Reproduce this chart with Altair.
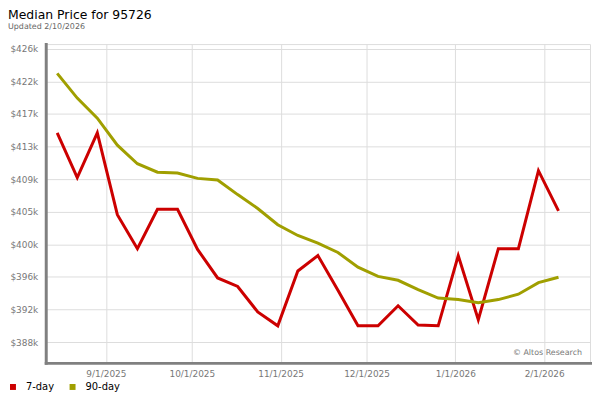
import altair as alt
import pandas as pd

# ---- data ----
dates = [
    "2025-08-15", "2025-08-22", "2025-08-29", "2025-09-05", "2025-09-12",
    "2025-09-19", "2025-09-26", "2025-10-03", "2025-10-10", "2025-10-17",
    "2025-10-24", "2025-10-31", "2025-11-07", "2025-11-14", "2025-11-21",
    "2025-11-28", "2025-12-05", "2025-12-12", "2025-12-19", "2025-12-26",
    "2026-01-02", "2026-01-09", "2026-01-16", "2026-01-23", "2026-01-30",
    "2026-02-06",
]
seven_day = [
    414900, 409100, 414900, 404300, 399900, 405000, 405000, 399800, 396100,
    395000, 391700, 389900, 397000, 399000, 394500, 389900, 389900, 392500,
    390000, 389900, 399000, 390700, 399900, 399900, 410000, 404800,
]
ninety_day = [
    422600, 419400, 416800, 413300, 410900, 409800, 409700, 409000, 408800,
    406900, 405100, 403000, 401600, 400600, 399400, 397500, 396300, 395800,
    394600, 393500, 393300, 392900, 393300, 394000, 395500, 396200,
]
series_names = ["7-day", "90-day"]
series_colors = ["#cc0000", "#a09f00"]
y_tick_values = [387800, 392020, 396240, 400460, 404680, 408900, 413120,
                 417340, 421560, 425780]
x_tick_dates = ["2025-09-01", "2025-10-01", "2025-11-01", "2025-12-01",
                "2026-01-01", "2026-02-01"]
x_domain = ["2025-08-11", "2026-02-17"]
y_domain = [385100, 426400]

title_text = "Median Price for 95726"
subtitle_text = "Updated 2/10/2026"
watermark_text = "\u00a9 Altos Research"

FONT = "DejaVu Sans"


def dt(s):
    y, m, d = (int(p) for p in s.split("-"))
    return alt.DateTime(year=y, month=m, date=d)


rows = []
for d, a, b in zip(dates, seven_day, ninety_day):
    rows.append({"date": d + "T00:00:00", "series": series_names[0], "price": a})
    rows.append({"date": d + "T00:00:00", "series": series_names[1], "price": b})
df = pd.DataFrame(rows)

lines = alt.Chart(df).mark_line(strokeWidth=3, strokeJoin="miter").encode(
    x=alt.X(
        "date:T",
        scale=alt.Scale(domain=[dt(x_domain[0]), dt(x_domain[1])]),
        axis=alt.Axis(
            values=[dt(s) for s in x_tick_dates],
            format="%-m/%-d/%Y",
            title=None,
            ticks=False,
            labelPadding=7,
            grid=True,
        ),
    ),
    y=alt.Y(
        "price:Q",
        scale=alt.Scale(domain=y_domain, nice=False, zero=False),
        axis=alt.Axis(
            values=y_tick_values,
            labelExpr='"$" + format(datum.value / 1000, ".0f") + "k"',
            title=None,
            ticks=False,
            labelPadding=8,
            grid=True,
        ),
    ),
    color=alt.Color(
        "series:N",
        scale=alt.Scale(domain=series_names, range=series_colors),
        legend=alt.Legend(
            orient="none",
            legendX=-38,
            legendY=340,
            direction="horizontal",
            title=None,
            symbolType="square",
            symbolSize=9,
            symbolStrokeWidth=3,
            labelFont=FONT,
            labelFontSize=10,
            labelColor="#000000",
            labelOffset=8,
            columnPadding=10,
            padding=0,
        ),
    ),
)

watermark = alt.Chart(alt.Data(values=[{"t": watermark_text}])).mark_text(
    align="right", baseline="middle", font=FONT, fontSize=8, color="#777777"
).encode(x=alt.value(540), y=alt.value(311), text="t:N")

chart = alt.layer(lines, watermark).properties(
    width=548,
    height=321,
    padding={"left": 38, "top": 35, "right": 2, "bottom": 28},
    autosize=alt.AutoSizeParams(type="none"),
    title=alt.TitleParams(
        text=title_text,
        subtitle=subtitle_text,
        anchor="start",
        frame="group",
        dx=-38,
        offset=13,
        font=FONT,
        fontSize=12.5,
        fontWeight="normal",
        color="#000000",
        subtitleFont=FONT,
        subtitleFontSize=8,
        subtitleColor="#666666",
        subtitlePadding=2,
    ),
).configure_view(
    stroke="#dddddd", strokeWidth=1
).configure_axis(
    domainColor="#808080",
    domainWidth=3,
    domainCap="square",
    gridColor="#dddddd",
    gridWidth=1,
    labelFont=FONT,
    labelFontSize=9,
    labelColor="#777777",
)

chart.save("out.html", embed_options={"renderer": "svg", "actions": False})
